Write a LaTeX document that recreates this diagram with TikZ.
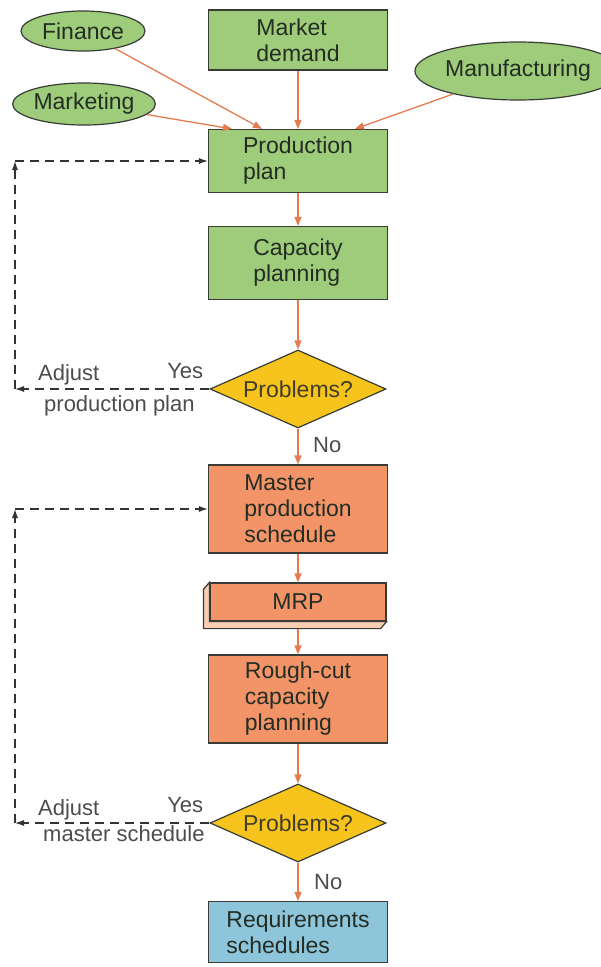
\documentclass[tikz,border=0pt]{standalone}
\usepackage{fontspec}
\setmainfont{Liberation Sans}
\usetikzlibrary{shapes.geometric,arrows.meta}

\definecolor{boxgreen}{RGB}{158,204,122}
\definecolor{boxorange}{RGB}{243,148,104}
\definecolor{mrpside}{RGB}{249,205,178}
\definecolor{boxyellow}{RGB}{247,196,30}
\definecolor{boxblue}{RGB}{142,197,218}
\definecolor{flow}{RGB}{228,124,80}
\definecolor{edge}{RGB}{55,60,55}
\definecolor{ink}{RGB}{35,45,35}

\tikzset{
  stepbox/.style={rectangle,draw=edge,line width=1.2pt,minimum width=179pt,align=left,
    font=\fontsize{23}{26}\selectfont,text=ink},
  source/.style={ellipse,draw=edge,line width=1.2pt,fill=boxgreen,inner sep=0pt,
    font=\fontsize{23}{26}\selectfont,text=ink},
  check/.style={diamond,draw=edge,line width=1.2pt,fill=boxyellow,aspect=2.25,inner sep=0pt,
    minimum width=176pt,minimum height=78pt,font=\fontsize{23}{26}\selectfont,text=ink!80!brown},
  flowarrow/.style={draw=flow,line width=1.3pt,-{Triangle[length=9pt,width=7pt]}},
  feedback/.style={draw=black!80,line width=1.1pt,dash pattern=on 9pt off 6pt,-{Latex[length=9pt,width=6pt]}},
  lbl/.style={font=\fontsize{22}{24}\selectfont,text=black!70,inner sep=0pt}
}

\begin{document}
\begin{tikzpicture}[x=1pt,y=-1pt]
\useasboundingbox (0,0) rectangle (601,967);

\node[stepbox,fill=boxgreen,minimum height=60pt] (market) at (298,40) {Market\\demand};
\node[source,minimum width=124pt,minimum height=40pt] (finance) at (83,31) {Finance};
\node[source,minimum width=138pt,minimum height=42pt] (marketing) at (84,104) {Marketing};
\node[source,minimum width=163pt,minimum height=58pt] (manufacturing) at (518,71) {Manufacturing};
\node[stepbox,fill=boxgreen,minimum height=63pt] (prod) at (298,161) {Production\\plan};
\node[stepbox,fill=boxgreen,minimum height=73pt] (cap) at (298,263) {Capacity\\planning};
\node[check] (prob1) at (298,389) {Problems?};
\node[stepbox,fill=boxorange,minimum height=88pt] (mps) at (298,509) {Master\\production\\schedule};
\node[stepbox,fill=boxorange,minimum width=176pt,minimum height=38pt,align=center] (mrp) at (298,602) {MRP};
\draw[edge,line width=1.2pt,fill=mrpside] (mrp.north west) -- ([xshift=-6pt,yshift=-7pt]mrp.north west)
  -- ([xshift=-6pt,yshift=-7pt]mrp.south west) -- ([xshift=-6pt,yshift=-7pt]mrp.south east)
  -- (mrp.south east) -- (mrp.south west) -- cycle;
\node[stepbox,fill=boxorange,minimum height=88pt] (rough) at (298,699) {Rough-cut\\capacity\\planning};
\node[check] (prob2) at (298,823) {Problems?};
\node[stepbox,fill=boxblue,minimum height=61pt] (req) at (298,932) {Requirements\\schedules};

\draw[flowarrow] (market) -- (prod);
\draw[flowarrow] (finance) -- ([xshift=-36pt]prod.north);
\draw[flowarrow] (marketing) -- ([xshift=-66pt]prod.north);
\draw[flowarrow] (manufacturing) -- ([xshift=57pt]prod.north);
\draw[flowarrow] (prod) -- (cap);
\draw[flowarrow] (cap) -- (prob1);
\draw[flowarrow] (prob1) -- (mps);
\draw[flowarrow] (mps) -- (mrp);
\draw[flowarrow] ([yshift=-7pt]mrp.south) -- (rough);
\draw[flowarrow] (rough) -- (prob2);
\draw[flowarrow] (prob2) -- (req);

\node[lbl,anchor=west] (no1) at ([xshift=15pt,yshift=-16pt]prob1.south) {No};
\node[lbl,anchor=west] (no2) at ([xshift=16pt,yshift=-19pt]prob2.south) {No};

\coordinate (turn1) at (15,389);
\coordinate (top1) at (15,161);
\draw[feedback] (prob1) -- (turn1);
\draw[feedback] (turn1) -- (top1);
\draw[feedback] (top1) -- (prod);
\node[lbl,anchor=base west] (adjust1) at (38,380) {Adjust};
\node[lbl,anchor=base east] (yes1) at ([xshift=-6pt,yshift=11pt]prob1.west) {Yes};
\node[lbl,anchor=base west] (plan1) at (44,411) {production plan};

\coordinate (turn2) at (15,823);
\coordinate (top2) at (15,509);
\draw[feedback] (prob2) -- (turn2);
\draw[feedback] (turn2) -- (top2);
\draw[feedback] (top2) -- (mps);
\node[lbl,anchor=base west] (adjust2) at (38,815) {Adjust};
\node[lbl,anchor=base east] (yes2) at ([xshift=-6pt,yshift=11pt]prob2.west) {Yes};
\node[lbl,anchor=base west] (plan2) at (43,841) {master schedule};

\end{tikzpicture}
\end{document}
